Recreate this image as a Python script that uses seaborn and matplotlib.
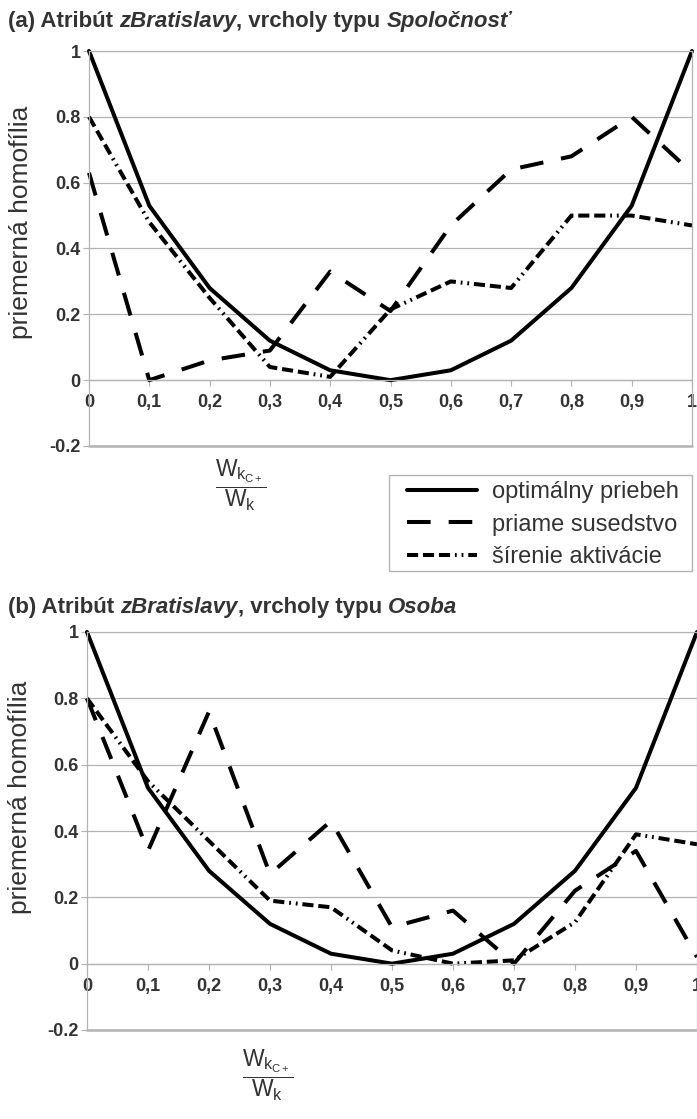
import matplotlib
matplotlib.use("Agg")
import matplotlib.pyplot as plt
from matplotlib.patches import Rectangle
import seaborn as sns
import pandas as pd

# ---------------- data ----------------
x_vals = [0.0, 0.1, 0.2, 0.3, 0.4, 0.5, 0.6, 0.7, 0.8, 0.9, 1.0]
x_labels = ["0", "0,1", "0,2", "0,3", "0,4", "0,5", "0,6", "0,7", "0,8", "0,9", "1"]
y_ticks = [-0.2, 0.0, 0.2, 0.4, 0.6, 0.8, 1.0]
y_labels = ["-0.2", "0", "0.2", "0.4", "0.6", "0.8", "1"]

series_names = ["optimálny priebeh", "priame susedstvo", "šírenie aktivácie"]

opt_a = [1.00, 0.53, 0.28, 0.12, 0.03, 0.00, 0.03, 0.12, 0.28, 0.53, 1.00]
pri_a = [0.63, 0.00, 0.06, 0.09, 0.33, 0.21, 0.47, 0.64, 0.68, 0.80, 0.63]
sir_a = [0.80, 0.48, 0.25, 0.04, 0.01, 0.215, 0.30, 0.28, 0.50, 0.50, 0.47]

opt_b = [1.00, 0.53, 0.28, 0.12, 0.03, 0.00, 0.03, 0.12, 0.28, 0.53, 1.00]
pri_b = [0.80, 0.34, 0.76, 0.27, 0.43, 0.11, 0.16, 0.00, 0.22, 0.34, 0.02]
sir_b = [0.80, 0.55, 0.37, 0.19, 0.17, 0.04, 0.00, 0.01, 0.125, 0.39, 0.36]

titles = [
    [("(a) Atribút ", "normal"), ("zBratislavy", "italic"), (", vrcholy typu ", "normal"), ("Spoločnosť", "italic")],
    [("(b) Atribút ", "normal"), ("zBratislavy", "italic"), (", vrcholy typu ", "normal"), ("Osoba", "italic")],
]
ylabel_text = "priemerná homofília"
frac_text = r"$\dfrac{\mathrm{W}_{\mathrm{k}_{\mathrm{C+}}}}{\mathrm{W}_{\mathrm{k}}}$"

# ---------------- style ----------------
sns.set_theme(style="white")
plt.rcParams["font.family"] = ["Liberation Sans", "DejaVu Sans"]
plt.rcParams["lines.scale_dashes"] = False
plt.rcParams["mathtext.fontset"] = "custom"
plt.rcParams["mathtext.rm"] = "Liberation Sans"
plt.rcParams["mathtext.it"] = "Liberation Sans:italic"

FAM = ["Liberation Sans", "DejaVu Sans"]
GRID = "#b3b3b3"
TXT = "#333333"
LW = 2.9
styles = ["-", (0, (17, 13)), (0, (8, 3.5, 8, 3.5, 8, 3.5, 1.3, 3.5, 1.3, 3.5))]

W, H = 697, 1119
fig = plt.figure(figsize=(W / 100, H / 100), dpi=100)

def fx(px):
    return px / W

def fy(py):
    return 1 - py / H

axes_px = [(89, 692, 51, 446), (87, 697, 632, 1030)]
data_sets = [(opt_a, pri_a, sir_a), (opt_b, pri_b, sir_b)]
title_px = [(8, 27), (8, 613)]
ylabel_pos = [(-0.093, 0.567), (-0.09, 0.585)]
frac_px = [(241, 485), (268, 1075)]

tick_kw = dict(fontsize=13, fontweight="bold", color=TXT, family=FAM)

for i in range(2):
    l, r, t, b = axes_px[i]
    ax = fig.add_axes([fx(l), fy(b), fx(r) - fx(l), fy(t) - fy(b)])
    opt, pri, sir = data_sets[i]
    df = pd.DataFrame({"x": x_vals, series_names[0]: opt,
                       series_names[1]: pri, series_names[2]: sir})
    for name, ls in zip(series_names, styles):
        sns.lineplot(data=df, x="x", y=name, ax=ax, color="black", lw=LW,
                     linestyle=ls, label=name, clip_on=False,
                     solid_joinstyle="miter", dash_capstyle="butt")
    ax.set_xlim(0, 1)
    ax.set_ylim(-0.2, 1)

    for s in ["left", "right", "top", "bottom"]:
        ax.spines[s].set_color(GRID)
        ax.spines[s].set_linewidth(0.9)
    ax.spines["bottom"].set_position(("data", 0))
    ax.axhline(ax.get_ylim()[0], color=GRID, lw=1.8, clip_on=False, zorder=0.5)

    ax.set_xlabel("")
    ax.set_ylabel(ylabel_text, fontsize=19, color=TXT, family=FAM)
    ax.yaxis.set_label_coords(*ylabel_pos[i])

    ax.set_yticks(y_ticks, labels=y_labels, **tick_kw)
    ax.set_xticks(x_vals, labels=x_labels, **tick_kw)
    ax.tick_params(axis="y", length=4, width=0.8, color=GRID, pad=2, left=True)
    ax.tick_params(axis="x", length=4, width=0.8, color=GRID, pad=6, bottom=True, direction="out")
    ax.yaxis.grid(True, color=GRID, lw=0.9)
    ax.xaxis.grid(False)
    ax.set_axisbelow(True)

    # title made of bold / bold-italic pieces
    tx, ty = title_px[i]
    prev = None
    for txt, st in titles[i]:
        kw = dict(fontsize=16, fontweight="bold", style=st, color=TXT, family=FAM)
        if prev is None:
            prev = fig.text(fx(tx), fy(ty), txt, ha="left", va="baseline", **kw)
        else:
            prev = ax.annotate(txt, xy=(1, 0), xycoords=prev, ha="left", va="bottom",
                               annotation_clip=False, **kw)

    cx, cy = frac_px[i]
    fig.text(fx(cx), fy(cy), frac_text, ha="center", va="center", fontsize=16.5, color=TXT)

    leg = ax.get_legend()
    if leg is not None:
        leg.remove()
    if i == 0:
        handles, labels = ax.get_legend_handles_labels()
        lg = fig.legend(handles, labels, loc="upper left",
                        bbox_to_anchor=(fx(407), fy(481)), fontsize=17,
                        frameon=False, handlelength=2.96, handletextpad=0.62,
                        borderpad=0, labelspacing=0.45, borderaxespad=0)
        for tt in lg.get_texts():
            tt.set_color(TXT)
        fig.patches.append(Rectangle((fx(389), fy(571)), fx(692) - fx(389), fy(475) - fy(571),
                                     transform=fig.transFigure, fill=False,
                                     edgecolor=GRID, lw=1.0))

fig.savefig("out.png", dpi=100)
